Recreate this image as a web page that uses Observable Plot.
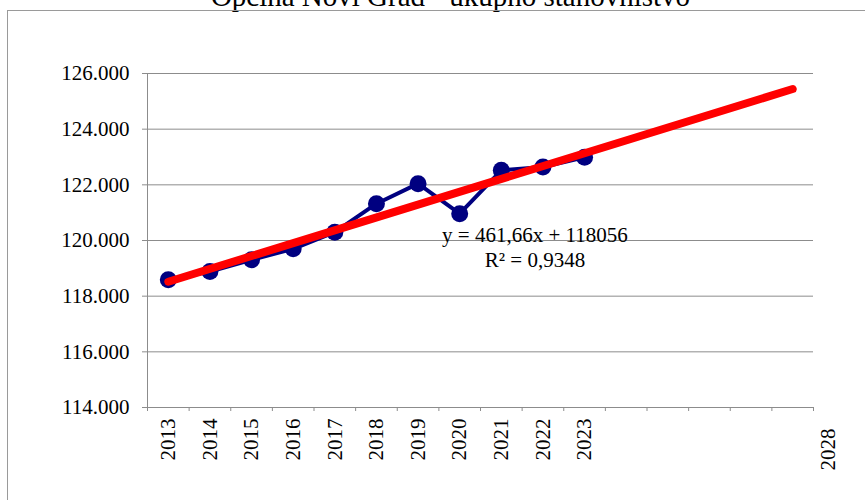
<!DOCTYPE html>
<html>
<head>
<meta charset="utf-8">
<script src="https://cdn.jsdelivr.net/npm/d3@7"></script>
<script src="https://cdn.jsdelivr.net/npm/@observablehq/plot@0.6"></script>
<style>
  html, body { margin: 0; padding: 0; background: #fff; overflow: hidden; }
  #wrap { position: relative; width: 865px; height: 500px; overflow: hidden; background: #fff; }
  #frame { position: absolute; left: 7px; top: 10px; width: 1000px; height: 1000px;
           border-left: 1px solid #9a9a9a; border-top: 1px solid #9a9a9a; pointer-events: none; }
  #wrap svg text { font-family: 'Liberation Serif', 'Times New Roman', serif !important; font-variant: normal !important; }
</style>
</head>
<body>
<div id="wrap"><div id="frame"></div></div>
<script>
// ---- data ----
const chartTitle = "Općina Novi Grad - ukupno stanovništvo";
const years = [2013, 2014, 2015, 2016, 2017, 2018, 2019, 2020, 2021, 2022, 2023];
const population = [118586, 118885, 119306, 119702, 120300, 121322, 122042, 120962, 122520, 122640, 122990];
const trendYears = [2013, 2028];
const trendValues = [118518, 125443];
const yTicks = [114000, 116000, 118000, 120000, 122000, 124000, 126000];
const xLabelYears = [2013, 2014, 2015, 2016, 2017, 2018, 2019, 2020, 2021, 2022, 2023];
const xExtraLabelYears = [2028];
const categoryBounds = [2012.5, 2013.5, 2014.5, 2015.5, 2016.5, 2017.5, 2018.5, 2019.5, 2020.5,
  2021.5, 2022.5, 2023.5, 2024.5, 2025.5, 2026.5, 2027.5, 2028.5];
const equationLines = ["y = 461,66x + 118056", "R² = 0,9348"];

const series = years.map((y, i) => ({year: y, value: population[i]}));
const trend = trendYears.map((y, i) => ({year: y, value: trendValues[i]}));

const fmt = d3.formatLocale({decimal: ",", thousands: ".", grouping: [3], currency: ["", ""]}).format(",");
const gridColor = "#8c8c8c";
const serif = "Liberation Serif";

const chart = Plot.plot({
  width: 865,
  height: 500,
  marginLeft: 147,
  marginRight: 52,
  marginTop: 73,
  marginBottom: 93,
  style: "font-family: 'Liberation Serif', 'Times New Roman', serif; font-size: 21px; background: transparent; color: #000;",
  x: {type: "linear", domain: [2012.5, 2028.5]},
  y: {domain: [114000, 126000]},
  marks: [
    Plot.gridY(yTicks, {stroke: gridColor, strokeOpacity: 1, strokeWidth: 1}),
    Plot.ruleX([categoryBounds[0]], {stroke: gridColor, strokeWidth: 1}),
    Plot.ruleY([yTicks[0]], {stroke: gridColor, strokeWidth: 1}),
    Plot.axisY({ticks: yTicks, tickSize: 5, tickPadding: 13, tickFormat: fmt, stroke: gridColor, fill: "#000", label: null, fontFamily: serif, fontVariant: "normal", fontSize: 21}),
    Plot.axisX({ticks: categoryBounds, tickSize: 4, tickFormat: () => "", stroke: gridColor, label: null}),
    Plot.axisX({ticks: xLabelYears, tickSize: 0, tickPadding: 11, tickRotate: -90, tickFormat: d => String(d), fill: "#000", label: null, fontFamily: serif, fontVariant: "normal", fontSize: 21}),
    Plot.axisX({ticks: xExtraLabelYears, tickSize: 0, tickPadding: 21, tickRotate: -90, dx: 36, tickFormat: d => String(d), fill: "#000", label: null, fontFamily: serif, fontVariant: "normal", fontSize: 21}),
    Plot.line(series, {x: "year", y: "value", stroke: "#000080", strokeWidth: 4}),
    Plot.dot(series, {x: "year", y: "value", r: 8.5, fill: "#000080", stroke: "none"}),
    Plot.line(trend, {x: "year", y: "value", stroke: "#ff0000", strokeWidth: 8, strokeLinecap: "round"}),
    Plot.text([equationLines.join("\n")], {x: 2022, y: 119800, dx: -8, lineAnchor: "middle", lineHeight: 1.19, fill: "#000", fontSize: 21, fontFamily: serif}),
    Plot.text([chartTitle], {frameAnchor: "top", dx: -30, dy: -68, lineAnchor: "bottom", fill: "#000", fontSize: 29, fontFamily: serif})
  ]
});
document.getElementById("wrap").prepend(chart);
</script>
</body>
</html>
